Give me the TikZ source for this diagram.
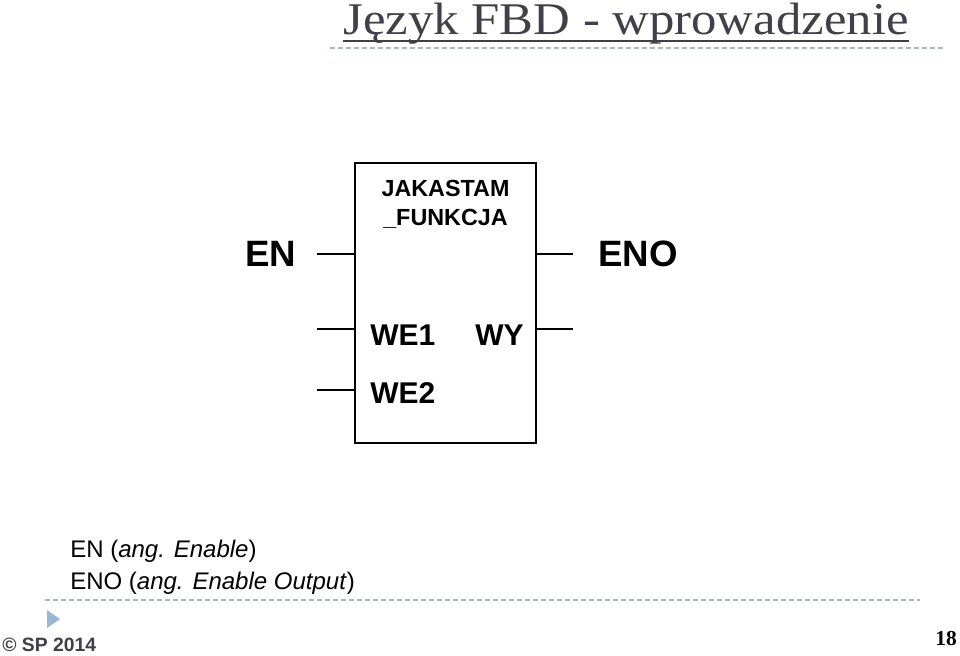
\documentclass[tikz,border=0pt]{standalone}
\usepackage{fontspec}
\setmainfont{Liberation Sans}
\newfontfamily\titlefont{Liberation Serif}
\usetikzlibrary{calc}

\definecolor{titlegray}{RGB}{64,64,72}
\definecolor{dashgray}{RGB}{175,183,196}
\definecolor{bulletblue}{RGB}{155,183,212}

\begin{document}
\begin{tikzpicture}[x=0.75pt, y=-0.75pt,
    pin/.style={line width=1pt},
    sep/.style={dashgray, dash pattern=on 3.5pt off 2.5pt, line width=0.8pt},
    lbl/.style={font=\fontsize{22.5}{26}\selectfont\bfseries, inner sep=0pt, anchor=base west}]
    \useasboundingbox (0,0) rectangle (960,656);
    % naglowek
    \node[font=\titlefont\fontsize{34}{40}\selectfont, text=titlegray, inner sep=0pt, anchor=base west] (title) at (343,35) {\scalebox{1.12}[1]{Język FBD - wprowadzenie}};
    \draw[titlegray, line width=1.3pt] ($(title.base west)+(0,6)$) -- ($(title.base east)+(0,6)$);
    \draw[sep] (330,48) -- (945,48);
    % blok funkcyjny
    \node[draw, line width=1.6pt, minimum width=135.75pt, minimum height=210pt, inner sep=0pt] (fb) at (445.5,303) {};
    \node[font=\fontsize{17.5}{22}\selectfont\bfseries, align=center, inner sep=0pt, anchor=north] (name) at (445.5,180) {JAKASTAM\\\_FUNKCJA};
    \coordinate (en) at (317,254);
    \coordinate (eno) at (573,254);
    \coordinate (we1) at (317,329);
    \coordinate (we2) at (317,390);
    \coordinate (wy) at (573,329);
    \foreach \p in {en,we1,we2} {\draw[pin] (\p) -- (\p -| fb.west);}
    \foreach \p in {eno,wy} {\draw[pin] (fb.east |- \p) -- (\p);}
    \node[font=\fontsize{27.5}{30}\selectfont\bfseries, inner sep=0pt, anchor=base west] (enl) at (245,266) {EN};
    \node[font=\fontsize{27.5}{30}\selectfont\bfseries, inner sep=0pt, anchor=base west] (enol) at (598,266) {ENO};
    \node[lbl] (we1l) at (370,345) {WE1};
    \node[lbl] (wyl) at (475,345) {WY};
    \node[lbl] (we2l) at (370,403) {WE2};
    % opis
    \node[font=\fontsize{18}{24}\selectfont, align=left, inner sep=0pt, anchor=base west] (desc) at (70,589) {EN (\textit{ang. Enable})\\ENO (\textit{ang. Enable Output})};
    % stopka
    \draw[sep] (45,600) -- (920,600);
    \fill[bulletblue] (47,610) -- (60,619) -- (47,628) -- cycle;
    \node[font=\fontsize{14.5}{17}\selectfont\bfseries, text=titlegray, inner sep=0pt, anchor=base west] (copy) at (2,651) {© SP 2014};
    \node[font=\titlefont\fontsize{16}{18}\selectfont\bfseries, inner sep=0pt, anchor=base east] (page) at (957,645) {18};
\end{tikzpicture}
\end{document}
